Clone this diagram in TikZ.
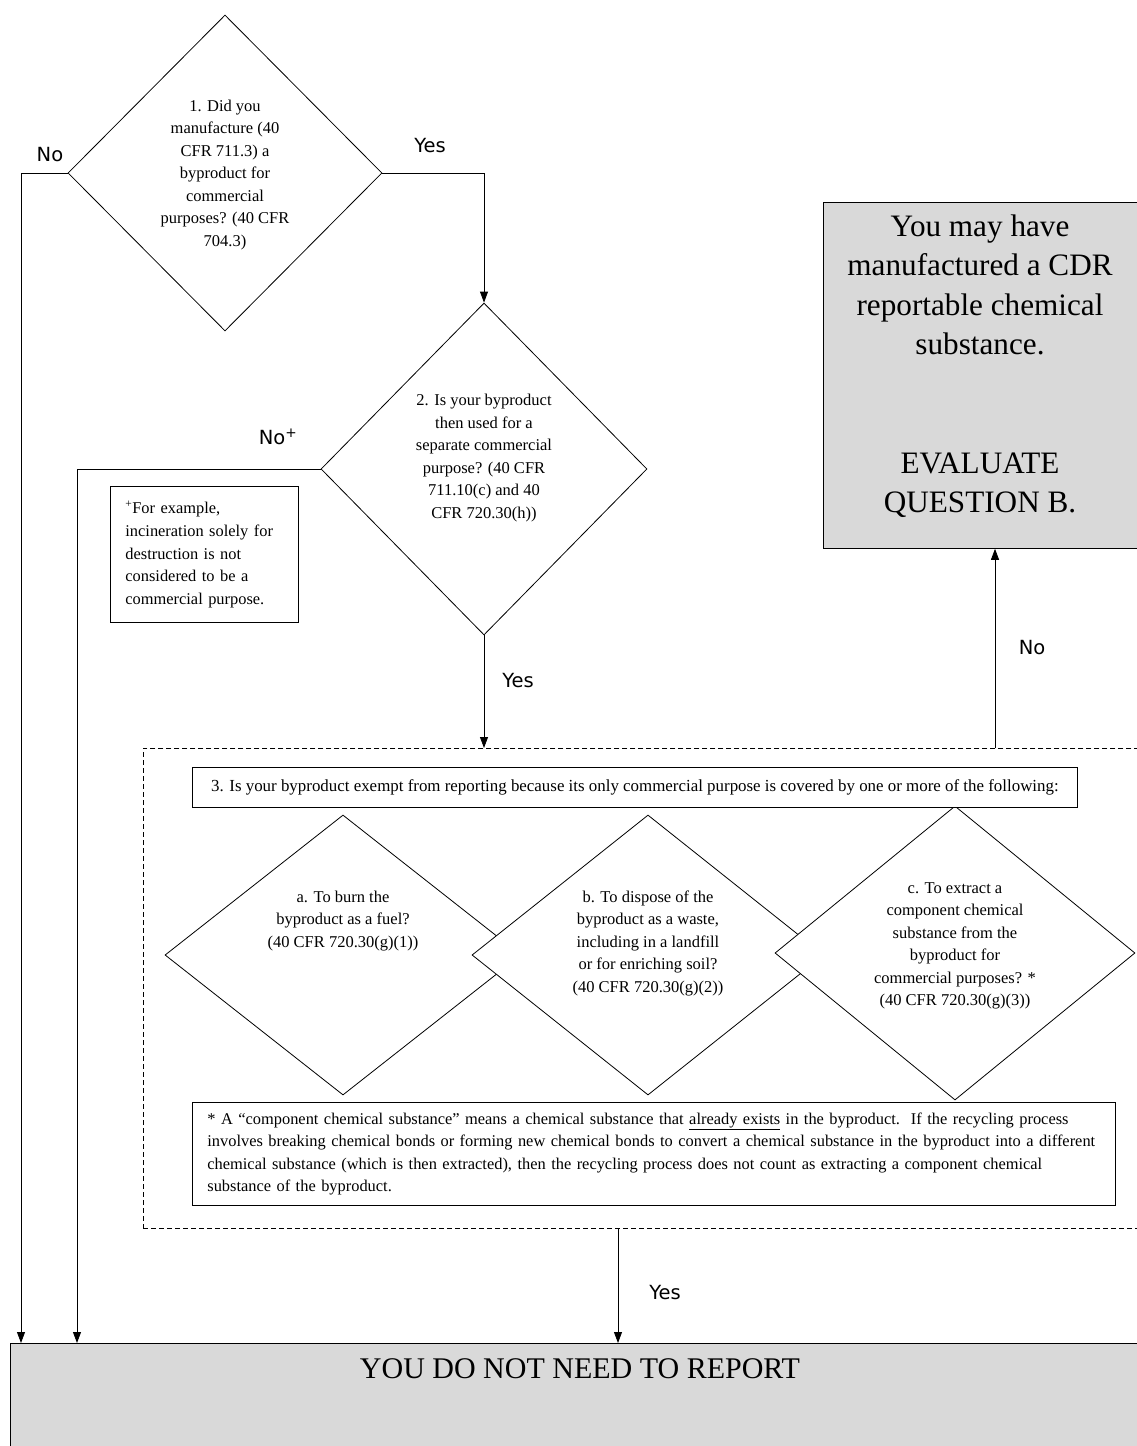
\documentclass[tikz,border=0pt]{standalone}
\usepackage{fontspec}
\setmainfont{Liberation Serif}
\newfontfamily\answerfont{DejaVu Sans}
\usetikzlibrary{shapes.geometric, arrows.meta, positioning, calc}
\tikzset{
  decision/.style={draw, diamond, fill=white, inner sep=0pt, line width=0.8pt},
  qtext/.style={align=center, inner sep=0pt, font=\fontsize{16.5}{22.5}\selectfont},
  textbox/.style={draw, fill=white, line width=0.8pt, inner ysep=0pt, inner xsep=15pt, font=\fontsize{16.4}{22.6}\selectfont},
  endbox/.style={draw, fill=black!15, line width=0.8pt, inner sep=0pt, anchor=north west},
  flow/.style={-{Triangle[length=11pt,width=8pt]}, line width=0.8pt},
  answer/.style={font=\answerfont\fontsize{19.5}{22}\selectfont, inner sep=0pt}
}
\begin{document}
\begin{tikzpicture}[x=1pt, y=-1pt]
\useasboundingbox (0,0) rectangle (1136,1446);

% end boxes
\node[endbox, minimum width=325pt, minimum height=346pt] (mayhave) at (823,202) {};
\node[align=center, inner sep=0pt, font=\fontsize{31.2}{39.5}\selectfont] (mayhavetext) at (980,366)
  {You may have\\manufactured a CDR\\reportable chemical\\substance.\\[79pt]EVALUATE\\QUESTION B.};
\node[endbox, minimum width=1150pt, minimum height=200pt] (noreport) at (10,1343) {};
\node[inner sep=0pt, font=\fontsize{30}{34}\selectfont] (noreporttext) at ([yshift=-26pt]noreport.north -| 580,0) {YOU DO NOT NEED TO REPORT};

% questions 1 and 2
\node[decision, minimum width=314pt, minimum height=316pt] (d1) at (225,173) {};
\node[qtext] (d1text) at (225,175) {1. Did you\\manufacture (40\\CFR 711.3) a\\byproduct for\\commercial\\purposes? (40 CFR\\704.3)};
\node[decision, minimum width=326pt, minimum height=332pt] (d2) at (484,469) {};
\node[qtext] (d2text) at (484,458) {2. Is your byproduct\\then used for a\\separate commercial\\purpose? (40 CFR\\711.10(c) and 40\\CFR 720.30(h))};
\node[textbox, anchor=north west, align=left, text width=158pt, minimum height=136pt] (plusnote) at (110,486)
  {\textsuperscript{+}For example,\\incineration solely for\\destruction is not\\considered to be a\\commercial purpose.};

% question 3 group
\node[draw, dashed, dash pattern=on 5pt off 3pt, line width=0.8pt, anchor=north west, minimum width=1010pt, minimum height=480pt] (group) at (143,748) {};
\node[decision, minimum width=356pt, minimum height=280pt] (da) at (343,955) {};
\node[decision, minimum width=352pt, minimum height=280pt] (db) at (648,955) {};
\node[decision, minimum width=360pt, minimum height=294pt] (dc) at (955,953) {};
\node[qtext] (datext) at (343,921) {a. To burn the\\byproduct as a fuel?\\(40 CFR 720.30(g)(1))};
\node[qtext] (dbtext) at (648,943) {b. To dispose of the\\byproduct as a waste,\\including in a landfill\\or for enriching soil?\\(40 CFR 720.30(g)(2))};
\node[qtext] (dctext) at (955,946) {c. To extract a\\component chemical\\substance from the\\byproduct for\\commercial purposes? *\\(40 CFR 720.30(g)(3))};
\node[textbox, anchor=north west, inner xsep=0pt, minimum width=885pt, minimum height=40pt, font=\fontsize{16.9}{22.6}\selectfont] (q3) at (192,767)
  {3. Is your byproduct exempt from reporting because its only commercial purpose is covered by one or more of the following:};
\node[textbox, anchor=north west, align=left, text width=893pt, minimum height=103pt] (starnote) at (192,1102)
  {* A “component chemical substance” means a chemical substance that \underline{already exists} in the byproduct.\ \ If the recycling process\\
   involves breaking chemical bonds or forming new chemical bonds to convert a chemical substance in the byproduct into a different\\
   chemical substance (which is then extracted), then the recycling process does not count as extracting a component chemical\\
   substance of the byproduct.};

% connectors
\coordinate (c1) at (21,0);
\coordinate (c2) at (77,0);
\coordinate (c3) at (618,0);
\coordinate (c4) at (995,0);
\draw[flow] (d1.west) -| (c1 |- noreport.north);
\draw[flow] (d1.east) -| (d2.north);
\draw[flow] (d2.west) -| (c2 |- noreport.north);
\draw[flow] (d2.south) -- (d2.south |- group.north);
\draw[flow] (c3 |- group.south) -- (c3 |- noreport.north);
\draw[flow] (c4 |- group.north) -- (c4 |- mayhave.south);

\node[answer] (no1) at (50,155) {No};
\node[answer] (yes1) at (430,146) {Yes};
\node[answer] (no2) at (278,437) {No\textsuperscript{+}};
\node[answer] (yes2) at (518,681) {Yes};
\node[answer] (no3) at (1032,648) {No};
\node[answer] (yes3) at (665,1293) {Yes};
\end{tikzpicture}
\end{document}
